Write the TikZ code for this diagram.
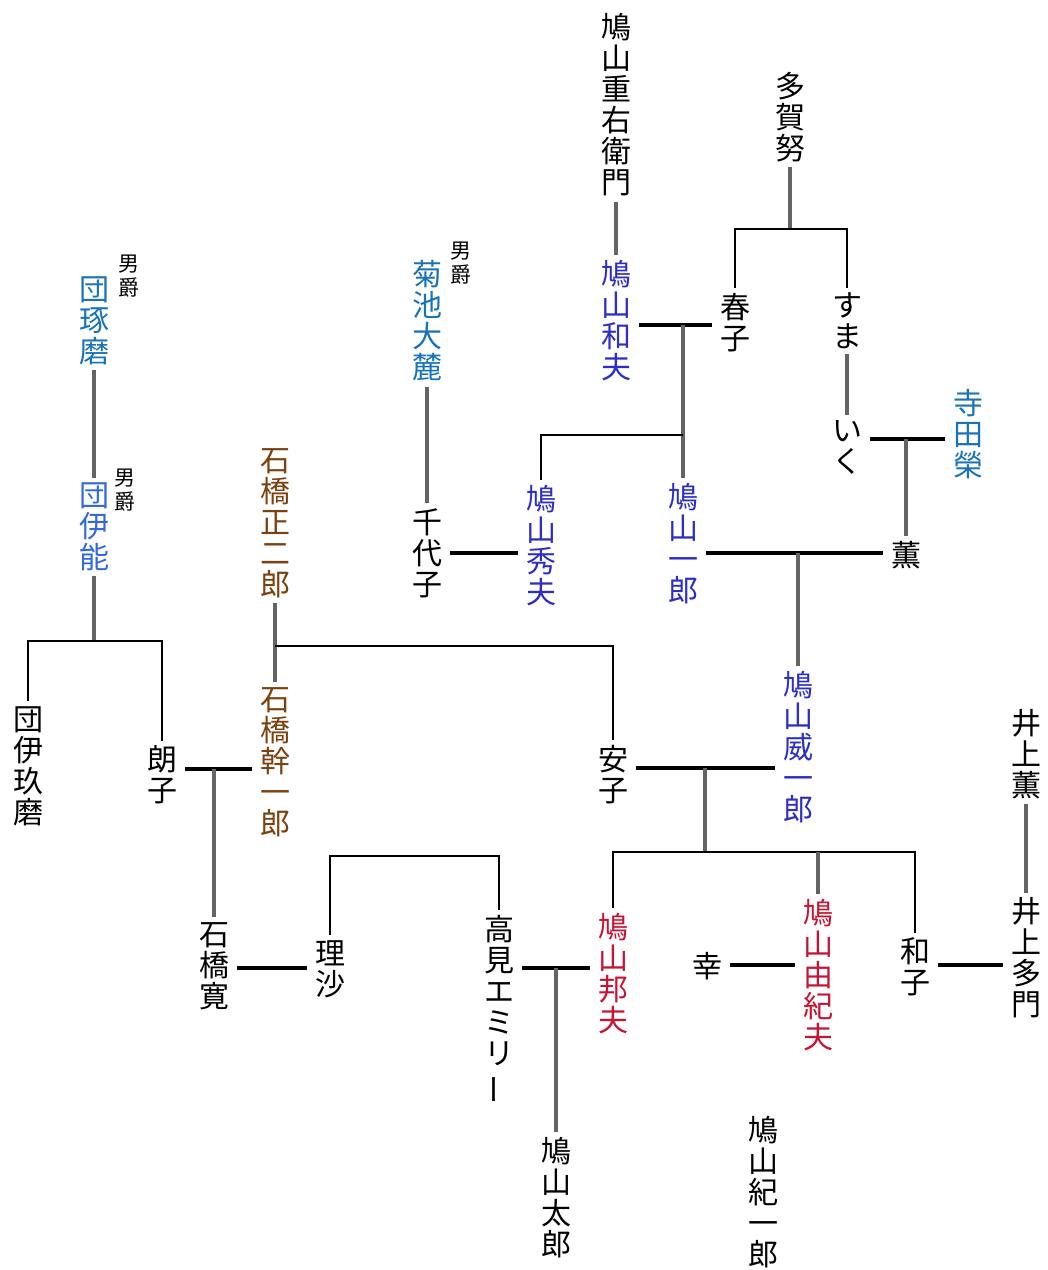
\documentclass[tikz,border=0pt]{standalone}
\usepackage{fontspec}
\setmainfont{Noto Sans CJK JP}
\usepackage{graphicx}
\definecolor{hatoblue}{RGB}{45,45,200}
\definecolor{baronteal}{RGB}{25,115,185}
\definecolor{inoblue}{RGB}{50,105,225}
\definecolor{ishibrown}{RGB}{125,65,15}
\definecolor{hatored}{RGB}{200,20,50}
\definecolor{descgray}{RGB}{100,100,100}
\newcommand{\tatebar}{\rotatebox[origin=c]{90}{ー}}

\begin{document}
\begin{tikzpicture}[x=1pt,y=-1pt,
  person/.style={inner xsep=8pt,inner ysep=5pt,align=center,font=\fontsize{30}{31}\selectfont},
  baron/.style={inner sep=0pt,align=center,font=\fontsize{21}{24}\selectfont},
  marry/.style={line width=4pt},
  sib/.style={line width=2.5pt},
  desc/.style={line width=3.2pt,draw=descgray}]
\useasboundingbox (0,0) rectangle (1048,1270);

% people: name/x/y/colour/text
\foreach \n/\x/\y/\c/\t in {
  jyuemon/616/105/black/{鳩\\山\\重\\右\\衛\\門},
  taganu/790/117/black/{多\\賀\\努},
  kazuo/616/321/hatoblue/{鳩\\山\\和\\夫},
  haruko/735/323/black/{春\\子},
  suma/847/321/black/{す\\ま},
  iku/847/447/black/{い\\く},
  terada/968/434/baronteal/{寺\\田\\榮},
  kaoru/906/555/black/{薫},
  hideo/541/546/hatoblue/{鳩\\山\\秀\\夫},
  ichiro/683/544/hatoblue/{鳩\\山\\一\\郎},
  kikuchi/427/321/baronteal/{菊\\池\\大\\麓},
  chiyoko/427/553/black/{千\\代\\子},
  dan/94/321/baronteal/{団\\琢\\磨},
  ino/94/527/inoblue/{団\\伊\\能},
  ikuma/28/766/black/{団\\伊\\玖\\磨},
  akiko/162/775/black/{朗\\子},
  shojiro/275/523/ishibrown/{石\\橋\\正\\二\\郎},
  kanichiro/275/762/ishibrown/{石\\橋\\幹\\一\\郎},
  yasuko/613/775/black/{安\\子},
  iichiro/798/747/hatoblue/{鳩\\山\\威\\一\\郎},
  hiroshi/214/966/black/{石\\橋\\寛},
  risa/330/969/black/{理\\沙},
  emily/499/1010/black/{高\\見\\エ\\ミ\\リ\\\tatebar},
  kunio/613/974/hatored/{鳩\\山\\邦\\夫},
  taro/556/1198/black/{鳩\\山\\太\\郎},
  koh/707/966/black/{幸},
  yukio/818/975/hatored/{鳩\\山\\由\\紀\\夫},
  kazuko/915/967/black/{和\\子},
  inoue/1026/754/black/{井\\上\\薫},
  tamon/1026/958/black/{井\\上\\多\\門},
  kiichiro/763/1192/black/{鳩\\山\\紀\\一\\郎}}
  \node[person,text=\c] (\n) at (\x,\y) {\t};

% titles
\node[baron] (bdan) at (129,276) {男\\爵};
\node[baron] (bino) at (125,490) {男\\爵};
\node[baron] (bkikuchi) at (461,263) {男\\爵};

% junctions
\coordinate (t1) at (790,229);
\coordinate (k1) at (683,325);
\coordinate (k2) at (683,435);
\coordinate (t2) at (906,439);
\coordinate (h1) at (798,553);
\coordinate (d1) at (94,641);
\coordinate (s1) at (275,646);
\coordinate (a1) at (214,769);
\coordinate (y1) at (705,768);
\coordinate (y2) at (705,852);
\coordinate (rb) at (415,856);
\coordinate (r1) at (276,968);
\coordinate (e1) at (556,968);
\coordinate (w1) at (764,965);

% Hatoyama top
\draw[desc] (jyuemon) -- (kazuo);
\draw[desc] (taganu) -- (t1);
\draw[sib] (haruko.north) |- (t1) -| (suma.north);
\draw[desc] (suma) -- (iku);
\draw[marry] (kazuo.east |- k1) -- (haruko.west |- k1);
\draw[desc] (k1) -- (ichiro.north);
\draw[sib] (k2) -| (hideo.north);
\draw[marry] (iku.east |- t2) -- (terada.west |- t2);
\draw[desc] (t2) -- (kaoru.north);
\draw[marry] (ichiro.east |- h1) -- (kaoru.west |- h1);
\draw[desc] (h1) -- (iichiro.north);
\draw[desc] (kikuchi) -- (chiyoko);
\draw[marry] (chiyoko.east |- h1) -- (hideo.west |- h1);

% Dan and Ishibashi
\draw[desc] (dan) -- (ino);
\draw[desc] (ino) -- (d1);
\draw[sib] (ikuma.north) |- (d1) -| (akiko.north);
\draw[desc] (shojiro) -- (kanichiro);
\draw[sib] (s1) -| (yasuko.north);
\draw[marry] (akiko.east |- a1) -- (kanichiro.west |- a1);
\draw[desc] (a1) -- (hiroshi.north);

% Yasuko and Iichiro
\draw[marry] (yasuko.east |- y1) -- (iichiro.west |- y1);
\draw[desc] (y1) -- (y2);
\draw[sib] (kunio.north) |- (y2) -| (kazuko.north);
\draw[desc] (yukio.north |- y2) -- (yukio.north);

% bottom row
\draw[marry] (hiroshi.east |- r1) -- (risa.west |- r1);
\draw[sib] (risa.north) |- (rb) -| (emily.north);
\draw[marry] (emily.east |- e1) -- (kunio.west |- e1);
\draw[desc] (e1) -- (taro.north);
\draw[marry] (koh.east |- w1) -- (yukio.west |- w1);
\draw[marry] (kazuko.east |- w1) -- (tamon.west |- w1);
\draw[desc] (inoue) -- (tamon);
\end{tikzpicture}
\end{document}
